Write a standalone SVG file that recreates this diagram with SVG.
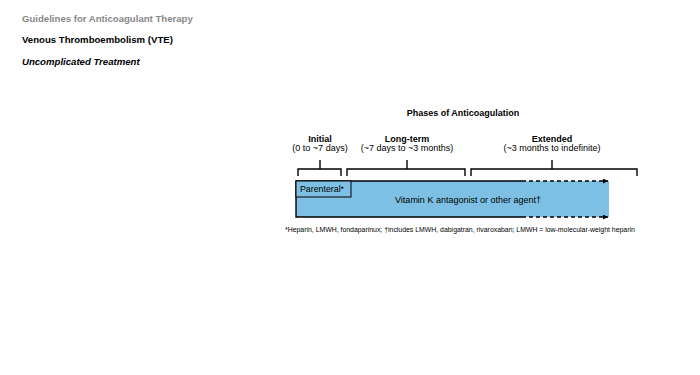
<svg xmlns="http://www.w3.org/2000/svg" width="700" height="375" viewBox="0 0 700 375">
<style>
text{font-family:"Liberation Sans",Arial,sans-serif}
.h{font-weight:bold;font-size:9px;text-anchor:middle;fill:#000}
.s{font-size:9px;text-anchor:middle;fill:#000}
.br{fill:none;stroke:#000;stroke-width:1.4}
.ln{stroke:#000;stroke-width:1.4;fill:none}
.dash{stroke:#000;stroke-width:1.4;stroke-dasharray:4,3;fill:none}
</style>
<defs>
<marker id="ar" viewBox="0 0 10 10" refX="10" refY="5" markerWidth="5" markerHeight="5" orient="auto" markerUnits="userSpaceOnUse">
<path d="M0,0 L10,5 L0,10 z" fill="#000"/>
</marker>
</defs>
<rect width="700" height="375" fill="#fff"/>
<g id="titles">
<text x="22" y="22" font-size="9.6" font-weight="bold" fill="#888">Guidelines for Anticoagulant Therapy</text>
<text x="22" y="43" font-size="9.6" font-weight="bold" fill="#000">Venous Thromboembolism (VTE)</text>
<text x="22" y="65" font-size="9.6" font-weight="bold" font-style="italic" fill="#000">Uncomplicated Treatment</text>
</g>
<g id="phases-title"><text class="h" x="463" y="116" font-size="10">Phases of Anticoagulation</text></g>
<g id="initial">
<text class="h" x="320" y="142">Initial</text>
<text class="s" x="320" y="151">(0 to ~7 days)</text>
<path class="br" d="M298,176 V169 H341 V176 M320,169 V160"/>
</g>
<g id="longterm">
<text class="h" x="407" y="142">Long-term</text>
<text class="s" x="407" y="151">(~7 days to ~3 months)</text>
<path class="br" d="M347,176 V169 H465 V176 M407,169 V160"/>
</g>
<g id="extended">
<text class="h" x="552" y="142">Extended</text>
<text class="s" x="552" y="151">(~3 months to indefinite)</text>
<path class="br" d="M471,176 V169 H637 V176 M552,169 V160"/>
</g>
<g id="vka">
<rect x="296" y="181" width="313" height="36" fill="#7dc0e3"/>
<text x="468" y="203" font-size="9" text-anchor="middle" fill="#000">Vitamin K antagonist or other agent†</text>
</g>
<g id="connectors">
<path class="ln" d="M522,181 H296 V217 H522"/>
<path class="dash" d="M522,181 H608" marker-end="url(#ar)"/>
<path class="dash" d="M522,217 H608" marker-end="url(#ar)"/>
</g>
<g id="parenteral">
<rect x="296" y="181" width="55" height="16" fill="#7dc0e3" stroke="#000" stroke-width="1"/>
<text x="300" y="192" font-size="8.8" fill="#000">Parenteral*</text>
</g>
<g id="footnote">
<text x="285" y="232" font-size="6.9" fill="#000">*Heparin, LMWH, fondaparinux; †includes LMWH, dabigatran, rivaroxaban; LMWH = low-molecular-weight heparin</text>
</g>
</svg>
